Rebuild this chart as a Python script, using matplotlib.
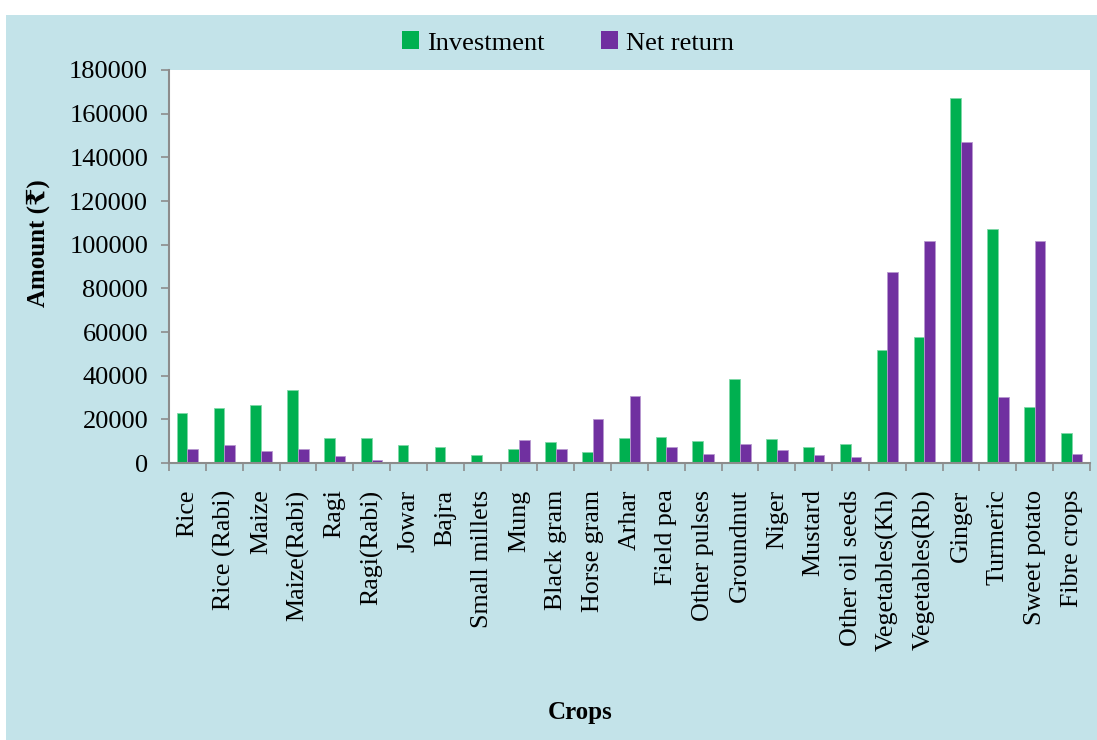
import matplotlib
matplotlib.use("Agg")
import matplotlib.pyplot as plt
from matplotlib.patches import Rectangle, Patch
import numpy as np

crops = ["Rice", "Rice (Rabi)", "Maize", "Maize(Rabi)", "Ragi", "Ragi(Rabi)", "Jowar",
         "Bajra", "Small millets", "Mung", "Black gram", "Horse gram", "Arhar",
         "Field pea", "Other pulses", "Groundnut", "Niger", "Mustard", "Other oil seeds",
         "Vegetables(Kh)", "Vegetables(Rb)", "Ginger", "Turmeric", "Sweet potato", "Fibre crops"]
investment = [23000, 25000, 26600, 33400, 11300, 11300, 8400, 7300, 3800, 6300, 9500, 4900,
              11500, 11900, 10100, 38500, 11000, 7500, 8700, 51700, 57700, 167200, 107200,
              25800, 13900]
net_return = [6300, 8100, 5500, 6300, 3000, 1500, 600, 400, 200, 10400, 6500, 20200,
              30700, 7300, 4100, 8700, 5800, 3700, 2600, 87600, 101700, 147200, 30100,
              101700, 4100]
yticks = [0, 20000, 40000, 60000, 80000, 100000, 120000, 140000, 160000, 180000]

plt.rcParams['font.family'] = ['Liberation Serif', 'DejaVu Serif']

W, H = 1097, 740
fig = plt.figure(figsize=(W / 100, H / 100), dpi=100)
bg = "#C3E3E9"
fig.patches.append(Rectangle((6 / W, 0), 1 - 6 / W, 1 - 15 / H, transform=fig.transFigure,
                             facecolor=bg, edgecolor="none", zorder=-10))

ax = fig.add_axes([169 / W, 1 - 463 / H, (1090 - 169) / W, (463 - 70) / H])
ax.set_facecolor("white")

x = np.arange(len(crops))
bw = 0.29
ax.bar(x - bw / 2, investment, bw, color="#00B050", edgecolor="#7fd8a8", linewidth=0.6,
       label="Investment")
ax.bar(x + bw / 2, net_return, bw, color="#7030A0", edgecolor="#b898d0", linewidth=0.6,
       label="Net return")

ax.set_xlim(-0.5, len(crops) - 0.5)
ax.set_ylim(0, 180000)
ax.set_yticks(yticks)
ax.set_yticklabels([str(v) for v in yticks], fontsize=19)
ax.set_xticks(x)
ax.set_xticklabels(crops, rotation=90, fontsize=18.7, va="top", ha="center")
ax.set_xticks(np.arange(-0.5, len(crops), 1), minor=True)
ax.tick_params(axis="x", which="major", length=0, pad=19)
ax.tick_params(axis="x", which="minor", length=6, color="#8c8c8c", width=1.2)
ax.tick_params(axis="y", length=6, color="#8c8c8c", width=1.2, pad=9)
for s in ["top", "right"]:
    ax.spines[s].set_visible(False)
for s in ["left", "bottom"]:
    ax.spines[s].set_color("#8c8c8c")
    ax.spines[s].set_linewidth(1.5)

fig.text(38 / W, 1 - 243 / H, "Amount (₹)", rotation=90, fontsize=18, fontweight="bold",
         ha="center", va="center")
fig.text(580 / W, 1 - 713 / H, "Crops", fontsize=18, fontweight="bold", ha="center", va="center")

handles = [Patch(facecolor="#00B050", edgecolor="none"), Patch(facecolor="#7030A0", edgecolor="none")]
fig.legend(handles, ["Investment", "Net return"], loc="center", ncol=2,
           bbox_to_anchor=(568 / W, 1 - 43 / H), frameon=False, fontsize=19,
           handlelength=0.65, handleheight=0.65, handletextpad=0.3, columnspacing=2.15)

fig.savefig("out.png", dpi=100)
